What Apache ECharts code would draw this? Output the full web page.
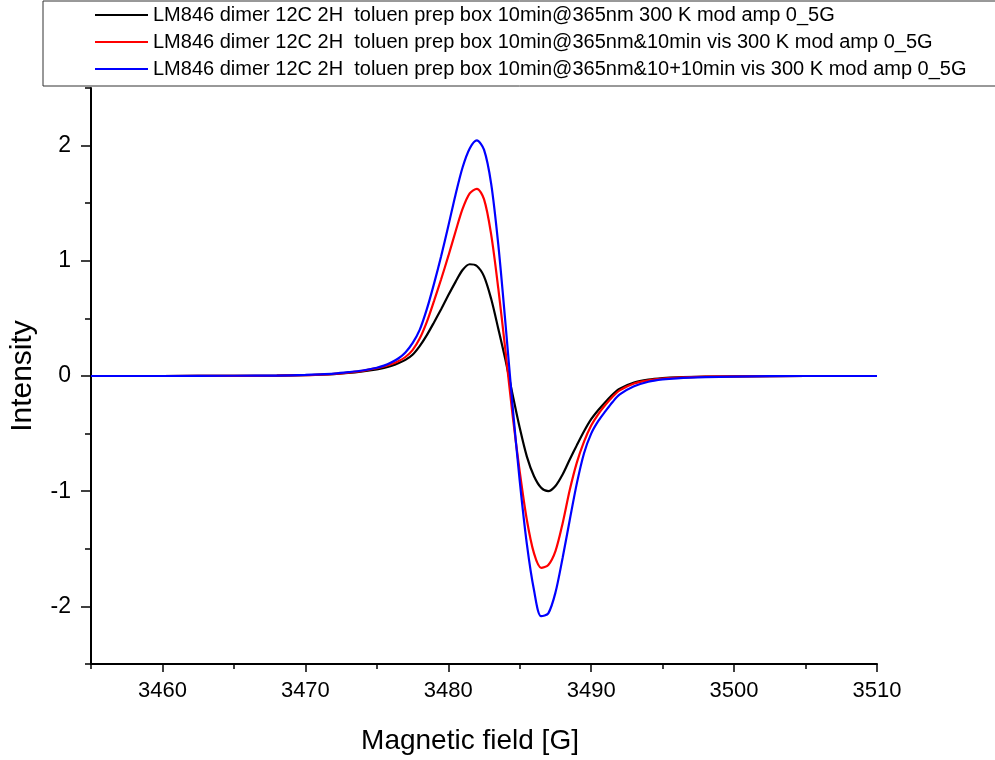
<!DOCTYPE html>
<html>
<head>
<meta charset="utf-8">
<script src="https://cdn.jsdelivr.net/npm/echarts@6/dist/echarts.min.js"></script>
<style>
  html, body { margin: 0; padding: 0; background: #fff; }
  #chart { width: 995px; height: 760px; }
</style>
</head>
<body>
<div id="chart"></div>
<script>
// Magnetic field positions [G]
var fields = [3455, 3460, 3465, 3468, 3470, 3471, 3472, 3473, 3474, 3475, 3475.5, 3476, 3476.5, 3477, 3477.5, 3478, 3478.5, 3479, 3479.5, 3480, 3480.5, 3481, 3481.5, 3482, 3482.5, 3483, 3483.5, 3484, 3484.5, 3485, 3485.5, 3486, 3486.5, 3487, 3487.5, 3488, 3488.5, 3489, 3489.5, 3490, 3490.5, 3491, 3491.5, 3492, 3493, 3494, 3495, 3496, 3498, 3500, 3505, 3510];

// Intensities
var blackValues = [0, 0, 0.001, 0.003, 0.007, 0.011, 0.017, 0.026, 0.04, 0.058, 0.07, 0.087, 0.11, 0.14, 0.185, 0.26, 0.355, 0.465, 0.58, 0.70, 0.815, 0.92, 0.97, 0.955, 0.865, 0.67, 0.41, 0.14, -0.16, -0.45, -0.70, -0.87, -0.97, -1.0, -0.955, -0.855, -0.725, -0.60, -0.48, -0.375, -0.295, -0.225, -0.16, -0.11, -0.057, -0.032, -0.019, -0.012, -0.006, -0.003, 0, 0];
var redValues = [0, 0, 0.001, 0.003, 0.007, 0.012, 0.019, 0.03, 0.045, 0.068, 0.083, 0.102, 0.128, 0.165, 0.225, 0.325, 0.47, 0.65, 0.84, 1.04, 1.25, 1.45, 1.585, 1.625, 1.535, 1.23, 0.76, 0.22, -0.34, -0.83, -1.25, -1.54, -1.665, -1.64, -1.52, -1.28, -0.99, -0.75, -0.57, -0.43, -0.33, -0.25, -0.18, -0.125, -0.065, -0.038, -0.022, -0.014, -0.006, -0.003, 0, 0];
var blueValues = [0, 0, 0.002, 0.004, 0.009, 0.014, 0.021, 0.033, 0.048, 0.072, 0.09, 0.117, 0.152, 0.205, 0.285, 0.40, 0.58, 0.80, 1.04, 1.30, 1.57, 1.81, 1.975, 2.045, 1.965, 1.67, 1.14, 0.46, -0.26, -0.91, -1.46, -1.86, -2.085, -2.06, -1.88, -1.58, -1.25, -0.93, -0.67, -0.50, -0.39, -0.305, -0.225, -0.16, -0.09, -0.05, -0.03, -0.02, -0.01, -0.005, 0, 0];

var seriesNames = [
  'LM846 dimer 12C 2H  toluen prep box 10min@365nm 300 K mod amp 0_5G',
  'LM846 dimer 12C 2H  toluen prep box 10min@365nm&10min vis 300 K mod amp 0_5G',
  'LM846 dimer 12C 2H  toluen prep box 10min@365nm&10+10min vis 300 K mod amp 0_5G'
];
var seriesColors = ['#000000', '#ff0000', '#0000ff'];

// Tick positions
var xMajorTicks = [3460, 3470, 3480, 3490, 3500, 3510];
var xMinorTicks = [3455, 3465, 3475, 3485, 3495, 3505];
var yMajorTicks = [-2, -1, 0, 1, 2];
var yMinorTicks = [-2.5, -1.5, -0.5, 0.5, 1.5, 2.5];

var FONT = '"Liberation Sans", Arial, sans-serif';

function pairs(vals) {
  return fields.map(function (f, i) { return [f, vals[i]]; });
}
var allValues = [blackValues, redValues, blueValues];

var chart = echarts.init(document.getElementById('chart'), null, { renderer: 'canvas' });
chart.setOption({
  animation: false,
  backgroundColor: '#ffffff',
  grid: { left: 88, right: 118, top: 88, bottom: 95, containLabel: false },
  legend: {
    orient: 'vertical',
    left: 43,
    top: 1,
    padding: [4, 400, 7, 52],
    icon: 'rect',
    itemWidth: 53,
    itemHeight: 2,
    itemGap: 7,
    borderColor: '#333333',
    borderWidth: 1,
    selectedMode: false,
    textStyle: { fontFamily: FONT, fontSize: 20, color: '#000' },
    data: seriesNames
  },
  xAxis: [
    {
      type: 'value', min: 3455, max: 3510, position: 'bottom',
      axisLine: { show: true, onZero: false, lineStyle: { color: '#000', width: 2 } },
      axisTick: { show: true, customValues: xMajorTicks, length: 8, lineStyle: { color: '#000', width: 1.5 } },
      axisLabel: { show: true, customValues: xMajorTicks, formatter: function (v) { return String(v); },
        fontFamily: FONT, fontSize: 22, color: '#000', margin: 16 },
      splitLine: { show: false },
      name: 'Magnetic field [G]', nameLocation: 'middle', nameGap: 63,
      nameTextStyle: { fontFamily: FONT, fontSize: 28, color: '#000', padding: [0, 28, 0, 0] }
    },
    {
      type: 'value', min: 3455, max: 3510, position: 'bottom',
      axisLine: { show: false, onZero: false },
      axisTick: { show: true, customValues: xMinorTicks, length: 5, lineStyle: { color: '#000', width: 1.5 } },
      axisLabel: { show: false },
      splitLine: { show: false }
    }
  ],
  yAxis: [
    {
      type: 'value', min: -2.5, max: 2.5, position: 'left',
      axisLine: { show: true, onZero: false, lineStyle: { color: '#000', width: 2 } },
      axisTick: { show: true, customValues: yMajorTicks, length: 10, lineStyle: { color: '#000', width: 1.5 } },
      axisLabel: { show: true, customValues: yMajorTicks, formatter: function (v) { return String(v); },
        fontFamily: FONT, fontSize: 23, color: '#000', margin: 20 },
      splitLine: { show: false },
      name: 'Intensity', nameLocation: 'middle', nameGap: 53,
      nameTextStyle: { fontFamily: FONT, fontSize: 30, color: '#000' }
    },
    {
      type: 'value', min: -2.5, max: 2.5, position: 'left',
      axisLine: { show: false, onZero: false },
      axisTick: { show: true, customValues: yMinorTicks, length: 6, lineStyle: { color: '#000', width: 1.5 } },
      axisLabel: { show: false },
      splitLine: { show: false }
    }
  ],
  series: seriesNames.map(function (name, i) {
    return {
      name: name,
      type: 'line',
      xAxisIndex: 0,
      yAxisIndex: 0,
      data: pairs(allValues[i]),
      showSymbol: false,
      symbol: 'none',
      smooth: 0.3,
      color: seriesColors[i],
      lineStyle: { color: seriesColors[i], width: 2.2 },
      z: 2 + i
    };
  })
});
</script>
</body>
</html>
